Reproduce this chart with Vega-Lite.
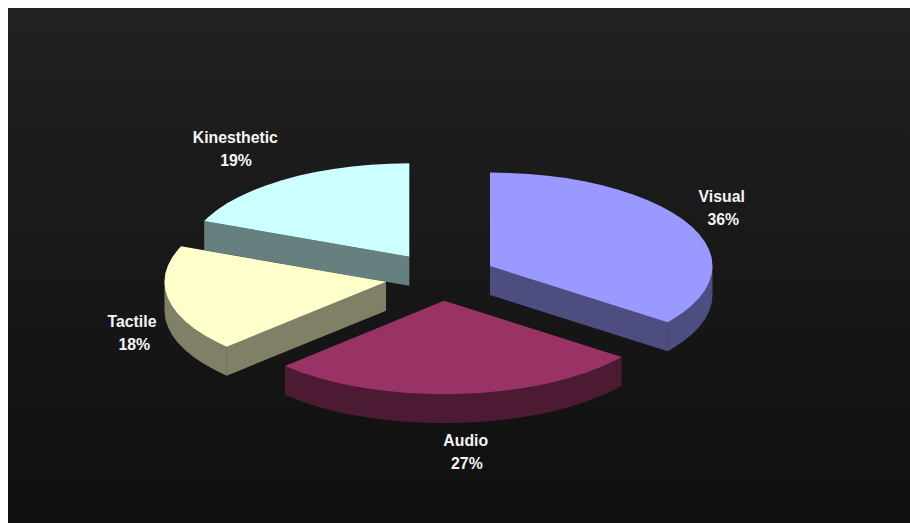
{
"$schema":"https://vega.github.io/schema/vega-lite/v6.json",
"width":910,"height":523,"padding":0,"autosize":"none","background":"#ffffff",
"config":{"view":{"stroke":null}},
"layer":[
{"data":{"values":[{"x":8,"x2":910,"y":8,"y2":523}]},
 "mark":{"type":"rect","color":{"gradient":"linear","x1":0,"y1":0,"x2":0,"y2":1,"stops":[{"offset":0,"color":"#212121"},{"offset":1,"color":"#0f0f0f"}]}},
 "encoding":{
  "x":{"field":"x","type":"quantitative","scale":{"domain":[0,910],"nice":false,"zero":false},"axis":null},
  "x2":{"field":"x2"},
  "y":{"field":"y","type":"quantitative","scale":{"domain":[523,0],"nice":false,"zero":false},"axis":null},
  "y2":{"field":"y2"}}},
{"data":{"values":[
{"part":"Kinesthetic side","x":204.2,"y":221},{"part":"Kinesthetic side","x":204.2,"y":250},{"part":"Kinesthetic side","x":409.3,"y":285.7},{"part":"Kinesthetic side","x":409.3,"y":256.7},
{"part":"Kinesthetic top","x":409.3,"y":256.7},{"part":"Kinesthetic top","x":204.2,"y":221},{"part":"Kinesthetic top","x":208.1,"y":217.2},{"part":"Kinesthetic top","x":217,"y":210},{"part":"Kinesthetic top","x":227.4,"y":203.1},{"part":"Kinesthetic top","x":239.2,"y":196.7},{"part":"Kinesthetic top","x":252.3,"y":190.7},{"part":"Kinesthetic top","x":266.6,"y":185.2},{"part":"Kinesthetic top","x":282,"y":180.2},{"part":"Kinesthetic top","x":298.3,"y":175.8},{"part":"Kinesthetic top","x":315.5,"y":172},{"part":"Kinesthetic top","x":333.4,"y":168.9},{"part":"Kinesthetic top","x":351.8,"y":166.5},{"part":"Kinesthetic top","x":370.8,"y":164.7},{"part":"Kinesthetic top","x":389.9,"y":163.7},{"part":"Kinesthetic top","x":409.3,"y":163.3},
{"part":"Tactile side","x":386,"y":281.7},{"part":"Tactile side","x":386,"y":310.7},{"part":"Tactile side","x":226.7,"y":375.7},{"part":"Tactile side","x":216.3,"y":370.8},{"part":"Tactile side","x":204.6,"y":364.3},{"part":"Tactile side","x":194.2,"y":357.45},{"part":"Tactile side","x":185.3,"y":350.2},{"part":"Tactile side","x":177.9,"y":342.7},{"part":"Tactile side","x":172.1,"y":334.9},{"part":"Tactile side","x":167.9,"y":326.9},{"part":"Tactile side","x":165.3,"y":318.9},{"part":"Tactile side","x":164.5,"y":310.7},{"part":"Tactile side","x":164.5,"y":281.7},
{"part":"Tactile top","x":386,"y":281.7},{"part":"Tactile top","x":226.7,"y":346.7},{"part":"Tactile top","x":216.3,"y":341.8},{"part":"Tactile top","x":204.6,"y":335.3},{"part":"Tactile top","x":194.2,"y":328.45},{"part":"Tactile top","x":185.3,"y":321.2},{"part":"Tactile top","x":177.9,"y":313.7},{"part":"Tactile top","x":172.1,"y":305.9},{"part":"Tactile top","x":167.9,"y":297.9},{"part":"Tactile top","x":165.3,"y":289.9},{"part":"Tactile top","x":164.5,"y":281.7},{"part":"Tactile top","x":165.3,"y":273.5},{"part":"Tactile top","x":167.9,"y":265.5},{"part":"Tactile top","x":172.1,"y":257.5},{"part":"Tactile top","x":177.9,"y":249.7},{"part":"Tactile top","x":181,"y":246.3},
{"part":"Visual side","x":490,"y":266},{"part":"Visual side","x":490,"y":295},{"part":"Visual side","x":667.7,"y":351.3},{"part":"Visual side","x":672.3,"y":348.6},{"part":"Visual side","x":682.7,"y":341.75},{"part":"Visual side","x":691.7,"y":334.5},{"part":"Visual side","x":699.1,"y":327},{"part":"Visual side","x":704.9,"y":319.2},{"part":"Visual side","x":709.1,"y":311.2},{"part":"Visual side","x":711.7,"y":303.2},{"part":"Visual side","x":712.5,"y":295},{"part":"Visual side","x":712.5,"y":266},
{"part":"Visual top","x":490,"y":266},{"part":"Visual top","x":490,"y":172.5},{"part":"Visual top","x":509.4,"y":172.9},{"part":"Visual top","x":528.6,"y":173.9},{"part":"Visual top","x":547.6,"y":175.7},{"part":"Visual top","x":566.1,"y":178.1},{"part":"Visual top","x":584,"y":181.3},{"part":"Visual top","x":601.25,"y":185},{"part":"Visual top","x":617.6,"y":189.4},{"part":"Visual top","x":633,"y":194.4},{"part":"Visual top","x":647.3,"y":199.9},{"part":"Visual top","x":660.4,"y":205.9},{"part":"Visual top","x":672.3,"y":212.4},{"part":"Visual top","x":682.7,"y":219.25},{"part":"Visual top","x":691.7,"y":226.5},{"part":"Visual top","x":699.1,"y":234},{"part":"Visual top","x":704.9,"y":241.8},{"part":"Visual top","x":709.1,"y":249.8},{"part":"Visual top","x":711.7,"y":257.8},{"part":"Visual top","x":712.5,"y":266},{"part":"Visual top","x":711.7,"y":274.2},{"part":"Visual top","x":709.1,"y":282.2},{"part":"Visual top","x":704.9,"y":290.2},{"part":"Visual top","x":699.1,"y":298},{"part":"Visual top","x":691.7,"y":305.5},{"part":"Visual top","x":682.7,"y":312.75},{"part":"Visual top","x":672.3,"y":319.6},{"part":"Visual top","x":667.7,"y":322.3},
{"part":"Audio side","x":621.7,"y":357},{"part":"Audio side","x":621.7,"y":386},{"part":"Audio side","x":614.4,"y":389.8},{"part":"Audio side","x":601.3,"y":395.8},{"part":"Audio side","x":587,"y":401.3},{"part":"Audio side","x":571.6,"y":406.3},{"part":"Audio side","x":555.25,"y":410.7},{"part":"Audio side","x":538,"y":414.4},{"part":"Audio side","x":520.1,"y":417.6},{"part":"Audio side","x":501.6,"y":420},{"part":"Audio side","x":482.6,"y":421.8},{"part":"Audio side","x":463.4,"y":422.8},{"part":"Audio side","x":444,"y":423.2},{"part":"Audio side","x":424.6,"y":422.8},{"part":"Audio side","x":405.4,"y":421.8},{"part":"Audio side","x":386.4,"y":420},{"part":"Audio side","x":367.9,"y":417.6},{"part":"Audio side","x":350,"y":414.4},{"part":"Audio side","x":332.75,"y":410.7},{"part":"Audio side","x":316.4,"y":406.3},{"part":"Audio side","x":301,"y":401.3},{"part":"Audio side","x":286.7,"y":395.8},{"part":"Audio side","x":285,"y":395.1},{"part":"Audio side","x":285,"y":366.1},
{"part":"Audio top","x":444,"y":300.7},{"part":"Audio top","x":621.7,"y":357},{"part":"Audio top","x":614.4,"y":360.8},{"part":"Audio top","x":601.3,"y":366.8},{"part":"Audio top","x":587,"y":372.3},{"part":"Audio top","x":571.6,"y":377.3},{"part":"Audio top","x":555.25,"y":381.7},{"part":"Audio top","x":538,"y":385.4},{"part":"Audio top","x":520.1,"y":388.6},{"part":"Audio top","x":501.6,"y":391},{"part":"Audio top","x":482.6,"y":392.8},{"part":"Audio top","x":463.4,"y":393.8},{"part":"Audio top","x":444,"y":394.2},{"part":"Audio top","x":424.6,"y":393.8},{"part":"Audio top","x":405.4,"y":392.8},{"part":"Audio top","x":386.4,"y":391},{"part":"Audio top","x":367.9,"y":388.6},{"part":"Audio top","x":350,"y":385.4},{"part":"Audio top","x":332.75,"y":381.7},{"part":"Audio top","x":316.4,"y":377.3},{"part":"Audio top","x":301,"y":372.3},{"part":"Audio top","x":286.7,"y":366.8},{"part":"Audio top","x":285,"y":366.1}
]},
 "mark":{"type":"line","strokeWidth":0,"interpolate":"linear-closed"},
 "encoding":{
  "x":{"field":"x","type":"quantitative"},
  "y":{"field":"y","type":"quantitative"},
  "order":{"value":null},
  "detail":{"field":"part","type":"nominal"},
  "fill":{"field":"part","type":"nominal","legend":null,"scale":{
    "domain":["Kinesthetic side","Kinesthetic top","Tactile side","Tactile top","Visual side","Visual top","Audio side","Audio top"],
    "range":["#668080","#ccffff","#808066","#ffffcc","#4d4d80","#9999ff","#4d1a33","#993366"]}}}},
{"data":{"values":[
{"edge":"Visual","x":667.7,"y":322.3},{"edge":"Visual","x":667.7,"y":351.3},
{"edge":"Tactile","x":226.7,"y":346.7},{"edge":"Tactile","x":226.7,"y":375.7}
]},
 "mark":{"type":"line","strokeWidth":0.5,"opacity":0.35,"color":"#2a2a2a"},
 "encoding":{
  "x":{"field":"x","type":"quantitative"},
  "y":{"field":"y","type":"quantitative"},
  "detail":{"field":"edge","type":"nominal"}}},
{"data":{"values":[
{"label":"Kinesthetic","x":235.3,"y":138.2},{"label":"19%","x":236,"y":161.2},
{"label":"Visual","x":721.7,"y":197.4},{"label":"36%","x":723.3,"y":220},
{"label":"Audio","x":465.7,"y":441.4},{"label":"27%","x":466.9,"y":464},
{"label":"Tactile","x":132,"y":321.8},{"label":"18%","x":134.2,"y":344.7}
]},
 "mark":{"type":"text","font":"Liberation Sans","fontWeight":"bold","fontSize":15.8,"color":"#f6f6f6","align":"center","baseline":"middle"},
 "encoding":{
  "x":{"field":"x","type":"quantitative"},
  "y":{"field":"y","type":"quantitative"},
  "text":{"field":"label","type":"nominal"}}}
]}
